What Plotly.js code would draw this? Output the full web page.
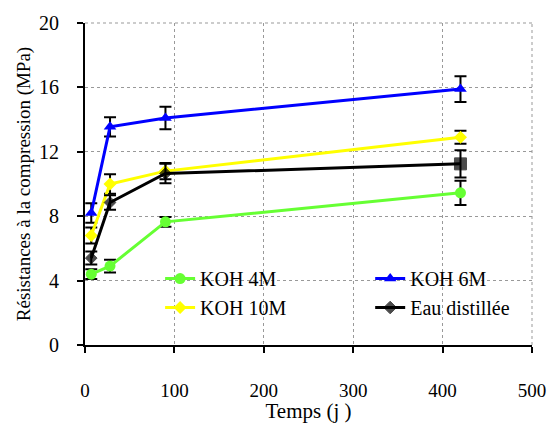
<!DOCTYPE html>
<html>
<head>
<meta charset="utf-8">
<script src="https://cdn.plot.ly/plotly-3.0.1.min.js"></script>
<style>html,body{margin:0;padding:0;background:#fff;}#chart{width:552px;height:423px;}</style>
</head>
<body>
<div id="chart"></div>
<script>
var days = [7, 28, 90, 420];
var names = ["KOH 4M", "KOH 6M", "KOH 10M", "Eau distillée"];
var koh4 = [4.4, 4.9, 7.65, 9.45];
var koh4Err = [0.3, 0.4, 0.3, 0.75];
var koh6 = [8.2, 13.55, 14.1, 15.9];
var koh6Err = [0.6, 0.6, 0.7, 0.8];
var koh10 = [6.8, 10.0, 10.8, 12.9];
var koh10Err = [0.5, 0.6, 0.5, 0.4];
var eau = [5.4, 8.85, 10.65, 11.25];
var eauErr = [0.4, 0.45, 0.6, 0.85];
var xTicks = [0, 100, 200, 300, 400, 500];
var yTicks = [0, 4, 8, 12, 16, 20];

var font = "Liberation Serif, Times New Roman, serif";
function err(a){ return {type:'data', array:a, visible:true, color:'#000', thickness:2, width:6}; }
var traces = [
  {x: days, y: koh4, name: names[0], legend:'legend', legendgroup:'a', mode:'lines+markers', line:{color:'#66ff33', width:3},
   marker:{symbol:'circle', size:11, color:'#66ff33'}, error_y: err(koh4Err)},
  {x: days, y: koh6, name: names[1], legend:'legend2', legendgroup:'b', mode:'lines+markers', line:{color:'#0000ff', width:3},
   marker:{symbol:'triangle-up', size:11, color:'#0000ff'}, error_y: err(koh6Err)},
  {x: days, y: koh10, name: names[2], legend:'legend', legendgroup:'c', mode:'lines+markers', line:{color:'#ffff00', width:3},
   marker:{symbol:'diamond', size:10, color:'#ffff00'}, error_y: err(koh10Err)},
  {x: days, y: eau, name: names[3], legend:'legend2', legendgroup:'d', mode:'lines+markers', line:{color:'#000000', width:3},
   marker:{symbol:['diamond','diamond','diamond','square'], size:[9,9,9,12], color:'#000'}, error_y: err(eauErr)}
];
var legBase = {orientation:'v', y:0.267, xanchor:'left', yanchor:'top', bgcolor:'rgba(0,0,0,0)',
               font:{family:font, size:20, color:'#000'}, tracegroupgap:0, traceorder:'normal'};
var layout = {
  width: 552, height: 423,
  margin: {l:85, r:20, t:23, b:78},
  paper_bgcolor:'#fff', plot_bgcolor:'#fff',
  font: {family: font, size: 18, color:'#000'},
  showlegend: true,
  legend: Object.assign({}, legBase, {x:0.168}),
  legend2: Object.assign({}, legBase, {x:0.638}),
  xaxis: {range:[0,500], tickvals: xTicks, ticktext: xTicks.map(String),
          showline:true, linecolor:'#000', linewidth:2, ticks:'outside', ticklen:6, tickwidth:2, tickcolor:'#000',
          showgrid:true, gridcolor:'#999', griddash:'dot', gridwidth:1, zeroline:false,
          ticklabelstandoff:21, tickfont:{size:19},
          title:{text:'Temps (j )', font:{size:21}, standoff:5}},
  yaxis: {range:[0,20], tickvals: yTicks, ticktext: yTicks.map(String),
          showline:true, linecolor:'#000', linewidth:2, ticks:'outside', ticklen:6, tickwidth:2, tickcolor:'#000',
          showgrid:true, gridcolor:'#999', griddash:'dot', gridwidth:1, zeroline:false,
          ticklabelstandoff:14, tickfont:{size:20},
          title:{text:'Résistances à la compression (MPa)', font:{size:19}, standoff:3}},
  shapes: [
    {type:'line', xref:'paper', yref:'paper', x0:1, x1:1, y0:0, y1:1, line:{color:'#999', width:1, dash:'dot'}},
    {type:'line', xref:'paper', yref:'paper', x0:0, x1:1, y0:1, y1:1, line:{color:'#999', width:1, dash:'dot'}}
  ]
};
Plotly.newPlot('chart', traces, layout, {displayModeBar:false, staticPlot:true});
</script>
</body>
</html>
